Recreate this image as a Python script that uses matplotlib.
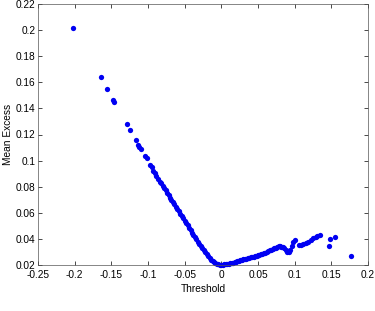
import matplotlib
matplotlib.use('Agg')
import matplotlib.pyplot as plt

# threshold / mean excess pairs
threshold = [
    -0.2027, -0.1641, -0.1559, -0.1473, -0.1460, -0.1290, -0.1245, -0.1164,
    -0.1132, -0.1118, -0.1100, -0.1037, -0.1018, -0.0977, -0.0950, -0.0928,
    -0.0909, -0.0887, -0.0860, -0.0836,
    -0.082, -0.080, -0.078, -0.076, -0.074, -0.072, -0.070, -0.068, -0.066,
    -0.064, -0.062, -0.060, -0.058, -0.056, -0.054, -0.052, -0.050, -0.048,
    -0.046, -0.044, -0.042, -0.040, -0.038, -0.036, -0.034, -0.032, -0.030,
    -0.028, -0.026, -0.024, -0.022, -0.020, -0.018, -0.016, -0.014, -0.012,
    -0.010, -0.008, -0.006, -0.004, -0.002, 0.000, 0.002, 0.004, 0.006,
    0.008, 0.010, 0.012, 0.014, 0.016, 0.018, 0.020, 0.022, 0.024, 0.026,
    0.028, 0.030, 0.032, 0.034, 0.036, 0.038, 0.040, 0.042, 0.044, 0.046,
    0.048, 0.050, 0.052, 0.054, 0.056, 0.058, 0.060, 0.062, 0.064, 0.066,
    0.068, 0.070, 0.072, 0.074, 0.076, 0.078, 0.080, 0.082, 0.084, 0.086,
    0.088, 0.090, 0.092, 0.094, 0.096, 0.098, 0.100,
    0.1063, 0.1090, 0.1118, 0.1150, 0.1186, 0.1220, 0.1254, 0.1290, 0.1310,
    0.1345, 0.1473, 0.1482, 0.1550, 0.1768,
]
mean_excess = [
    0.2016, 0.1637, 0.1548, 0.1468, 0.1450, 0.1277, 0.1238, 0.1157,
    0.1119, 0.1105, 0.1090, 0.1037, 0.1021, 0.0967, 0.0950, 0.0924,
    0.0904, 0.0883, 0.0858, 0.0839,
    0.0825, 0.0807, 0.0789, 0.0771, 0.0753, 0.0735, 0.0717, 0.0700, 0.0682,
    0.0664, 0.0646, 0.0628, 0.0610, 0.0592, 0.0574, 0.0557, 0.0539, 0.0521,
    0.0503, 0.0485, 0.0467, 0.0449, 0.0431, 0.0413, 0.0396, 0.0379, 0.0362,
    0.0345, 0.0328, 0.0312, 0.0296, 0.0281, 0.0266, 0.0252, 0.0240, 0.0229,
    0.0220, 0.0213, 0.0208, 0.0204, 0.0202, 0.0201, 0.0202, 0.0204, 0.0206,
    0.0208, 0.0211, 0.0213, 0.0216, 0.0219, 0.0222, 0.0225, 0.0229, 0.0232,
    0.0236, 0.0239, 0.0243, 0.0246, 0.0249, 0.0252, 0.0255, 0.0259, 0.0262,
    0.0264, 0.0267, 0.0270, 0.0273, 0.0277, 0.0281, 0.0285, 0.0290, 0.0295,
    0.0300, 0.0306, 0.0312, 0.0317, 0.0322, 0.0327, 0.0333, 0.0340, 0.0347,
    0.0345, 0.0340, 0.0336, 0.0332, 0.0318, 0.0303, 0.0298, 0.0315, 0.0345,
    0.0375, 0.0395,
    0.0352, 0.0356, 0.0362, 0.0368, 0.0380, 0.0390, 0.0405, 0.0415, 0.0420,
    0.0431, 0.0346, 0.0398, 0.0415, 0.0269,
]

xticks = [-0.25, -0.2, -0.15, -0.1, -0.05, 0, 0.05, 0.1, 0.15, 0.2]
yticks = [0.02, 0.04, 0.06, 0.08, 0.1, 0.12, 0.14, 0.16, 0.18, 0.2, 0.22]

plt.rcParams['font.family'] = ['Liberation Sans', 'DejaVu Sans']
plt.rcParams['font.size'] = 7

fig = plt.figure(figsize=(3.75, 3.11), dpi=100)
ax = fig.add_axes([38 / 375, 46 / 311, 330 / 375, 261 / 311])

ax.plot(threshold, mean_excess, 'o', color=(0, 0, 0.95), markersize=3.8,
        markeredgewidth=0, clip_on=False)

ax.set_xlim(-0.25, 0.2)
ax.set_ylim(0.02, 0.22)
ax.set_xticks(xticks)
ax.set_yticks(yticks)
ax.set_xticklabels(['%g' % t for t in xticks])
ax.set_yticklabels(['%g' % t for t in yticks])
ax.tick_params(direction='in', top=True, right=True, length=3, width=0.5,
               colors='black', labelsize=7.3)
ax.tick_params(axis='x', pad=3.5)
ax.tick_params(axis='y', pad=2)
for s in ax.spines.values():
    s.set_linewidth(0.5)
    s.set_color('#555555')

ax.set_xlabel('Threshold', fontsize=7.3, labelpad=3)
ax.set_ylabel('Mean Excess', fontsize=7.3, labelpad=2)

fig.savefig('out.png', dpi=100)
